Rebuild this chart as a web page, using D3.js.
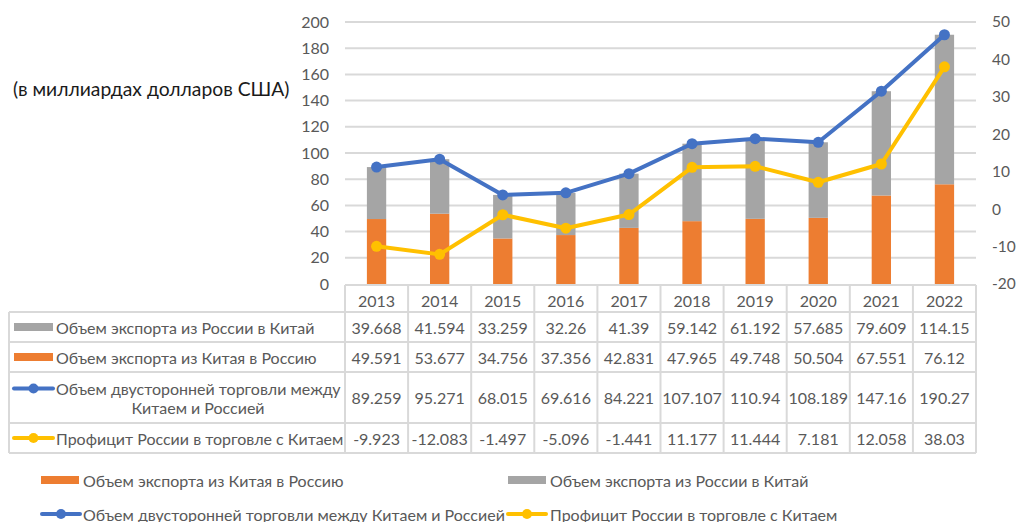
<!DOCTYPE html>
<html><head><meta charset="utf-8">
<script src="https://cdn.jsdelivr.net/npm/d3@7"></script>
<style>body{margin:0;background:#fff}svg{display:block}text{font-family:Lato,"Noto Sans",sans-serif}</style>
</head><body><svg id="c" width="1016" height="522"></svg>
<script>
const years = ["2013","2014","2015","2016","2017","2018","2019","2020","2021","2022"];
const exportRuToCn = [39.668,41.594,33.259,32.26,41.39,59.142,61.192,57.685,79.609,114.15];
const exportCnToRu = [49.591,53.677,34.756,37.356,42.831,47.965,49.748,50.504,67.551,76.12];
const bilateral = [89.259,95.271,68.015,69.616,84.221,107.107,110.94,108.189,147.16,190.27];
const surplus = [-9.923,-12.083,-1.497,-5.096,-1.441,11.177,11.444,7.181,12.058,38.03];
const leftTicks = [0,20,40,60,80,100,120,140,160,180,200];
const rightTicks = [-20,-10,0,10,20,30,40,50];
const unitLabel = "(в миллиардах долларов США)";
const nameRuCn = "Объем экспорта из России в Китай";
const nameCnRu = "Объем экспорта из Китая в Россию";
const nameBi = "Объем двусторонней торговли между Китаем и Россией";
const nameBiLines = ["Объем двусторонней торговли между","Китаем и Россией"];
const nameSur = "Профицит России в торговле с Китаем";

const C = {gray:"#a5a5a5", orange:"#ed7d31", blue:"#4472c4", yellow:"#ffc000", text:"#595959", grid:"#d9d9d9"};
const svg = d3.select("#c");
const X0 = 345, X1 = 976, Y0 = 284, Y1 = 22;
const x = d3.scaleBand().domain(years).range([X0, X1]).padding(0);
const yL = d3.scaleLinear().domain([0,200]).range([Y0, Y1]);
const yR = d3.scaleLinear().domain([-20,50]).range([Y0, Y1]);
const bw = x.bandwidth()*0.306;

// gridlines
svg.append("g").selectAll("line").data(leftTicks.filter(d=>d>0)).join("line")
  .attr("x1",X0).attr("x2",X1).attr("y1",d=>yL(d)).attr("y2",d=>yL(d))
  .attr("stroke",C.grid).attr("stroke-width",2);

// axes
const axL = svg.append("g").attr("transform",`translate(329,0)`)
  .call(d3.axisLeft(yL).tickValues(leftTicks).tickFormat(d=>String(d)).tickSize(0).tickPadding(0));
const axR = svg.append("g").attr("transform",`translate(992,0)`)
  .call(d3.axisRight(yR).tickValues(rightTicks).tickFormat(d=>String(d)).tickSize(0).tickPadding(0));
[axL,axR].forEach(a=>{a.select(".domain").remove();
  a.selectAll("text").attr("fill",C.text).style("font-size","16px").style("font-family","Lato,'Noto Sans',sans-serif");});
axR.selectAll("text").style("font-size","15.5px");

svg.append("text").attr("x",13).attr("y",96).attr("fill","#1a1a1a")
  .style("font-size","19.3px").text(unitLabel);

// stacked bars
const stacked = years.map((y,i)=>({y, a:exportCnToRu[i], b:exportRuToCn[i]}));
svg.append("g").selectAll("rect").data(stacked).join("rect")
  .attr("x",d=>x(d.y)+x.bandwidth()/2-bw/2).attr("width",bw)
  .attr("y",d=>yL(d.a)).attr("height",d=>Y0-yL(d.a)).attr("fill",C.orange);
svg.append("g").selectAll("rect").data(stacked).join("rect")
  .attr("x",d=>x(d.y)+x.bandwidth()/2-bw/2).attr("width",bw)
  .attr("y",d=>yL(d.a+d.b)).attr("height",d=>yL(d.a)-yL(d.a+d.b)).attr("fill",C.gray);

function drawLine(vals, scale, color){
  const pts = years.map((y,i)=>[x(y)+x.bandwidth()/2, scale(vals[i])]);
  svg.append("path").attr("d",d3.line()(pts)).attr("fill","none").attr("stroke",color)
    .attr("stroke-width",4).attr("stroke-linejoin","round").attr("stroke-linecap","round");
  svg.append("g").selectAll("circle").data(pts).join("circle")
    .attr("cx",d=>d[0]).attr("cy",d=>d[1]).attr("r",5.5).attr("fill",color);
}
drawLine(surplus, yR, C.yellow);
drawLine(bilateral, yL, C.blue);

// key drawer
function key(g, type, color, kx, ky, w){
  if(type==="bar"){
    g.append("rect").attr("x",kx).attr("y",ky-4).attr("width",w).attr("height",8).attr("fill",color);
  } else {
    g.append("line").attr("x1",kx).attr("x2",kx+w).attr("y1",ky).attr("y2",ky)
      .attr("stroke",color).attr("stroke-width",4).attr("stroke-linecap","round");
    g.append("circle").attr("cx",kx+w/2).attr("cy",ky).attr("r",5).attr("fill",color);
  }
}

// table
const rows = [
  {lines:[nameRuCn], vals:exportRuToCn, type:"bar", color:C.gray},
  {lines:[nameCnRu], vals:exportCnToRu, type:"bar", color:C.orange},
  {lines:nameBiLines, vals:bilateral, type:"line", color:C.blue},
  {lines:[nameSur], vals:surplus, type:"line", color:C.yellow}
];
const rowEdges = [312,342,372,423,453];
const tb = svg.append("g");
const TL = 9;
// header
tb.selectAll("text.yr").data(years).join("text").attr("class","yr")
  .attr("x",d=>x(d)+x.bandwidth()/2).attr("y",300).attr("text-anchor","middle")
  .attr("dominant-baseline","central").attr("fill",C.text).style("font-size","16px").text(d=>d);
rows.forEach((r,i)=>{
  const top=rowEdges[i], bot=rowEdges[i+1], mid=(top+bot)/2;
  tb.selectAll(null).data(r.vals).join("text")
    .attr("x",(d,j)=>x(years[j])+x.bandwidth()/2).attr("y",mid).attr("text-anchor","middle")
    .attr("dominant-baseline","central").attr("fill",C.text).style("font-size","16px").text(d=>String(d));
  if(r.lines.length===1){
    key(tb, r.type, r.color, 14, mid, 39);
    tb.append("text").attr("x",56).attr("y",mid).attr("dominant-baseline","central")
      .attr("fill",C.text).style("font-size","16px").text(r.lines[0]);
  } else {
    key(tb, r.type, r.color, 14, mid-9, 39);
    tb.append("text").attr("x",56).attr("y",mid-9).attr("dominant-baseline","central")
      .attr("fill",C.text).style("font-size","16px").text(r.lines[0]);
    tb.append("text").attr("x",198).attr("y",mid+10).attr("text-anchor","middle").attr("dominant-baseline","central")
      .attr("fill",C.text).style("font-size","16px").text(r.lines[1]);
  }
});
// borders
const bs = {stroke:C.grid, w:2};
function hl(x1,x2,y){tb.append("line").attr("x1",x1).attr("x2",x2).attr("y1",y).attr("y2",y).attr("stroke",bs.stroke).attr("stroke-width",bs.w);}
function vl(x0,y1,y2){tb.append("line").attr("x1",x0).attr("x2",x0).attr("y1",y1).attr("y2",y2).attr("stroke",bs.stroke).attr("stroke-width",bs.w);}
hl(X0,X1,Y0+1);
rowEdges.forEach(y=>hl(TL,X1,y));
years.forEach(y=>vl(x(y),Y0+1,453));
vl(X1,Y0+1,453);
vl(TL,312,453);

// bottom legend
const leg = [
  {name:nameCnRu, type:"bar", color:C.orange, kx:41, ky:480, tx:83},
  {name:nameRuCn, type:"bar", color:C.gray, kx:508, ky:480, tx:550},
  {name:nameBi, type:"line", color:C.blue, kx:42, ky:514, tx:83},
  {name:nameSur, type:"line", color:C.yellow, kx:508, ky:514, tx:550}
];
const lg = svg.append("g");
leg.forEach(l=>{
  key(lg, l.type, l.color, l.kx, l.ky, 38);
  lg.append("text").attr("x",l.tx).attr("y",l.ky).attr("dominant-baseline","central")
    .attr("fill",C.text).style("font-size","16px").text(l.name);
});
</script></body></html>
